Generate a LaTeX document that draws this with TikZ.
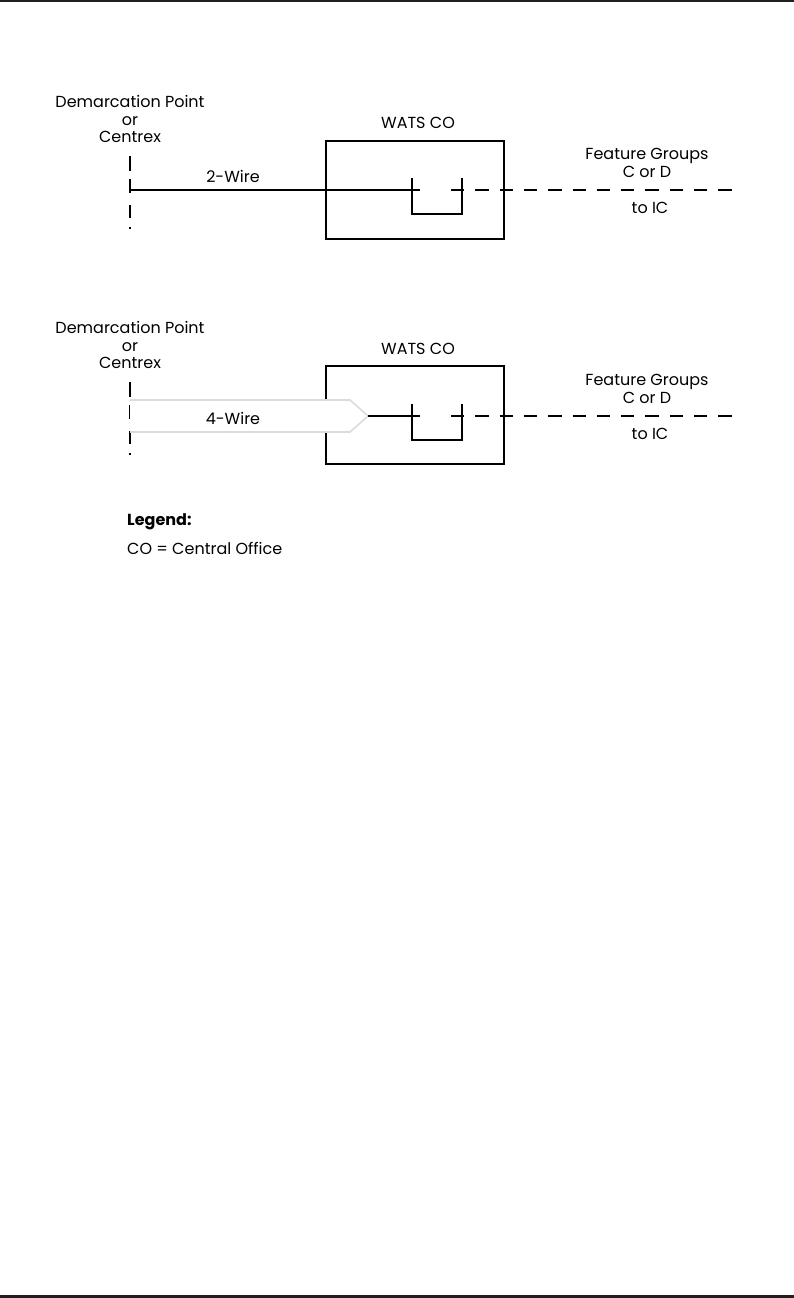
\documentclass[tikz,border=0pt]{standalone}
\usepackage{fontspec}
\setmainfont{Poppins}
\usepackage{tikz}
\usetikzlibrary{positioning, calc}

\definecolor{rule}{HTML}{231F20}

\tikzset{
  lbl/.style={font=\fontsize{16}{17.5}\selectfont, align=center, inner sep=0pt},
  wire/.style={line width=1.1pt, black},
  demarc/.style={line width=1.1pt, dash pattern=on 15pt off 8pt on 14pt off 12pt on 13pt off 9pt on 1.5pt off 30pt},
  fgline/.style={line width=1.1pt, dash pattern=on 13.3pt off 11pt},
  cobox/.style={draw, line width=1.1pt, minimum width=178pt, minimum height=98pt, inner sep=0pt},
  fourwire/.style={draw=gray!28, line width=1.6pt, line join=miter},
}

\begin{document}
\begin{tikzpicture}[x=1pt, y=-1pt]
    \useasboundingbox (0,0) rectangle (794,1298);
    % Page rules
    \draw[rule, line width=2pt] (0,1) -- (794,1);
    \draw[rule, line width=2.7pt] (0,1296.7) -- (794,1296.7);

    % ---------- 2-wire ----------
    \node[lbl] (demarc1) at (130,119) {Demarcation Point\\or\\Centrex};
    \coordinate (dtop1) at (130,156);
    \coordinate (dbot1) at (130,229);
    \draw[demarc] (dtop1) -- (dbot1);
    \node[cobox] (box1) at (415,190) {};
    \node[lbl] (wats1) at (418,123) {WATS CO};
    \coordinate (dp1) at (130,190);
    \coordinate (jl1) at (412,190);
    \coordinate (jr1) at (462,190);
    \coordinate (ic1) at (732,190);
    \draw[wire] (dp1) -- ([xshift=8pt]jl1);
    \draw[fgline] ([xshift=-11pt]jr1) -- (ic1);
    % switch
    \draw[wire] ([yshift=12pt]jl1) -- ++(0,36) -| ([yshift=12pt]jr1);
    \node[lbl] (w2) at (233,176) {2-Wire};
    \node[lbl] (fg1) at (647,163) {Feature Groups\\C or D};
    \node[lbl] (toic1) at (650,208) {to IC};

    % ---------- 4-wire ----------
    \node[lbl] (demarc2) at (130,345) {Demarcation Point\\or\\Centrex};
    \coordinate (dtop2) at (130,382);
    \coordinate (dbot2) at (130,455);
    \draw[demarc] (dtop2) -- (dbot2);
    \node[cobox] (box2) at (415,415) {};
    \node[lbl] (wats2) at (418,349) {WATS CO};
    \coordinate (dp2) at (130,416);
    \coordinate (tip2) at (368,416);
    \coordinate (jl2) at (412,416);
    \coordinate (jr2) at (462,416);
    \coordinate (ic2) at (732,416);
    % wide arrow
    \fill[white] ($(dp2)+(0,-16)$) -- ($(tip2)+(-18,-16)$) -- (tip2) -- ($(tip2)+(-18,16)$) -- ($(dp2)+(0,16)$) -- cycle;
    \draw[fourwire] ($(dp2)+(0,-16)$) -- ($(tip2)+(-18,-16)$) -- (tip2) -- ($(tip2)+(-18,16)$) -- ($(dp2)+(0,16)$);
    \draw[wire] (tip2) -- ([xshift=8pt]jl2);
    \draw[fgline] ([xshift=-11pt]jr2) -- (ic2);
    % switch
    \draw[wire] ([yshift=12pt]jl2) -- ++(0,36) -| ([yshift=12pt]jr2);
    \node[lbl] (w4) at (233,418) {4-Wire};
    \node[lbl] (fg2) at (647,389) {Feature Groups\\C or D};
    \node[lbl] (toic2) at (650,434) {to IC};

    % Legend
    \node[lbl, anchor=west, align=left] (legend) at (127,522) {\bfseries Legend:};
    \node[lbl, anchor=west, align=left] (co) at (127,548) {CO = Central Office};
\end{tikzpicture}
\end{document}
